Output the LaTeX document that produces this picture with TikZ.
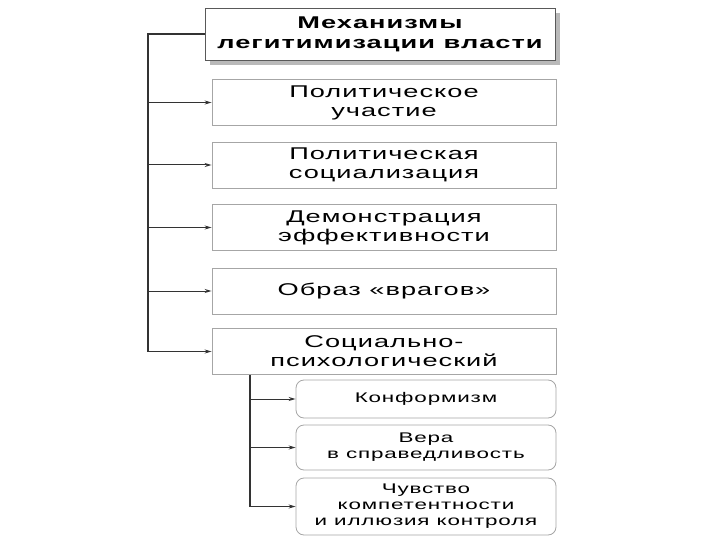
\documentclass[tikz,border=0pt]{standalone}
\usepackage{fontspec}
\setmainfont{Liberation Sans}
\newfontfamily\widesans[FakeStretch=1.6,LetterSpace=6]{Liberation Sans}
\usetikzlibrary{arrows.meta,positioning,shadows}

\begin{document}
\begin{tikzpicture}[
  x=1pt, y=-1pt,
  hdr/.style={draw=gray!70!black, fill=white, line width=0.9pt,
              minimum width=350pt, minimum height=52pt,
              align=center, font=\widesans\fontsize{17}{20}\selectfont\bfseries,
              drop shadow={shadow xshift=5pt, shadow yshift=-5pt,
                           fill=gray!55, opacity=1}},
  box/.style={draw=gray!70, fill=white, line width=0.8pt,
              minimum width=344pt, minimum height=46pt,
              align=center, font=\widesans\fontsize{17}{19}\selectfont},
  sub/.style={draw=gray!70, fill=white, line width=0.8pt, rounded corners=8pt,
              minimum width=260pt, align=center,
              font=\widesans\fontsize{14}{16}\selectfont},
  arr/.style={-{Stealth[length=7pt,width=4pt]}, line width=1pt, gray!40!black},
  ln/.style={line width=1.2pt, gray!40!black}
]
  \useasboundingbox (0,0) rectangle (720,540);

  \node[hdr] (mech) at (380,34) {Механизмы\\легитимизации власти};

  \node[box] (part) at (384,102.5) {Политическое\\участие};
  \node[box] (soc)  at (384,165)   {Политическая\\социализация};
  \node[box] (dem)  at (384,227.5) {Демонстрация\\эффективности};
  \node[box] (enem) at (384,291)   {Образ «врагов»};
  \node[box] (psy)  at (384,351.5) {Социально-\\психологический};

  \node[sub, minimum height=38pt] (conf) at (426,399)   {Конформизм};
  \node[sub, minimum height=45pt] (just) at (426,447.5) {Вера\\в справедливость};
  \node[sub, minimum height=57pt] (ctrl) at (426,506.5) {Чувство\\компетентности\\и иллюзия контроля};

  % main spine
  \coordinate (top) at (148,34);
  \coordinate (bot) at (148,351.5);
  \draw[ln] (mech.west) -- (top) -- (bot);
  \foreach \n in {part,soc,dem,enem,psy}
    \draw[arr] (top |- \n.west) -- (\n.west);

  % sub spine
  \coordinate (stop) at (250,375);
  \draw[ln] (stop |- psy.south) -- (stop |- ctrl.west);
  \foreach \n in {conf,just,ctrl}
    \draw[arr] (stop |- \n.west) -- (\n.west);
\end{tikzpicture}
\end{document}
